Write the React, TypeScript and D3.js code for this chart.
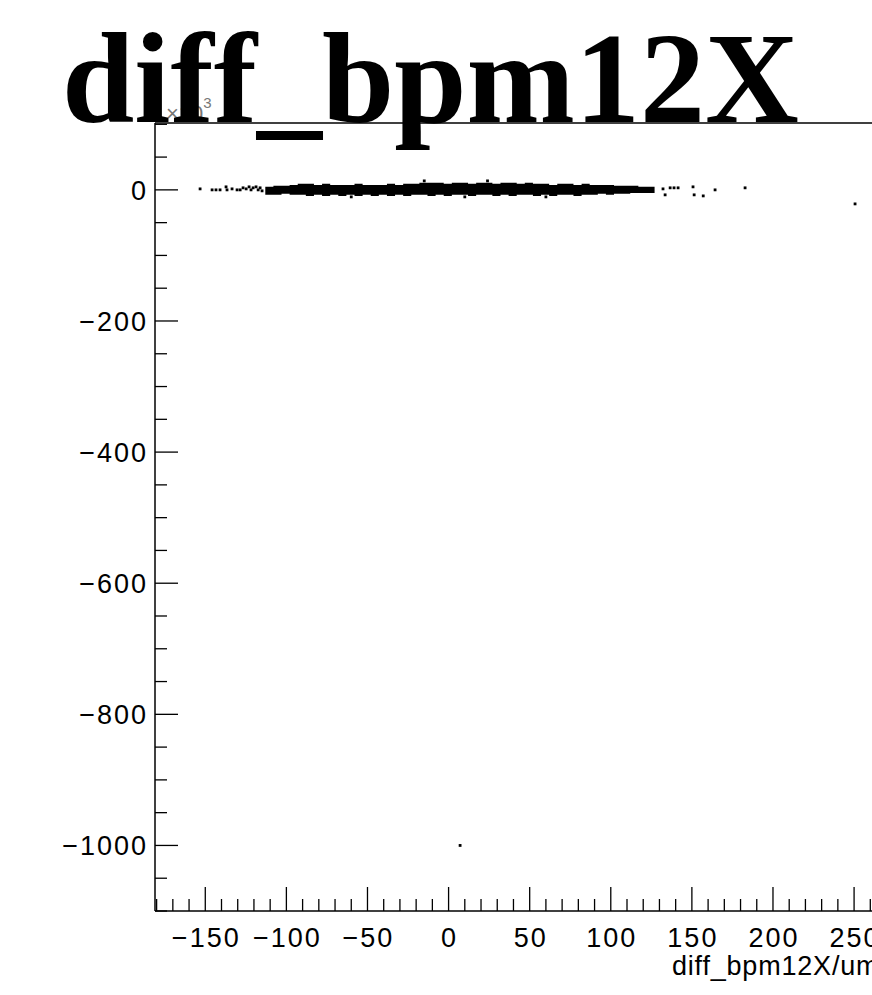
import React from "react";
import * as d3 from "d3";

// ---- data (y in units of 10^3) ----
const bandX = [-113, -108, -103, -98, -93, -88, -83, -78, -73, -68, -63, -58, -53, -48, -43, -38, -33, -28, -23, -18, -13, -8, -3, 2, 7, 12, 17, 22, 27, 32, 37, 42, 47, 52, 57, 62, 67, 72, 77, 82, 87, 92, 97, 102, 107, 112, 117, 122, 127];
const bandHi = [4.6, 6.1, 6.1, 7.6, 9.2, 9.2, 7.6, 9.2, 7.6, 7.6, 7.6, 9.2, 7.6, 7.6, 7.6, 9.2, 7.6, 9.2, 9.2, 10.7, 10.7, 10.7, 9.2, 10.7, 10.7, 9.2, 10.7, 10.7, 9.2, 10.7, 10.7, 9.2, 10.7, 9.2, 9.2, 7.6, 9.2, 9.2, 7.6, 9.2, 7.6, 7.6, 7.6, 6.1, 6.1, 6.1, 4.6, 4.6, 4.6];
const bandLo = [-7.6, -7.6, -6.1, -7.6, -7.6, -9.2, -7.6, -9.2, -7.6, -9.2, -7.6, -9.2, -7.6, -9.2, -7.6, -9.2, -7.6, -9.2, -7.6, -7.6, -9.2, -7.6, -9.2, -7.6, -7.6, -9.2, -7.6, -7.6, -9.2, -7.6, -9.2, -7.6, -7.6, -9.2, -7.6, -9.2, -7.6, -7.6, -9.2, -7.6, -7.6, -6.1, -7.6, -6.1, -6.1, -4.6, -4.6, -4.6, -4.6];

const pointX = [-153.2, -145.8, -143.4, -140.9, -137.2, -136.6, -133.5, -130.4, -128.5, -126.7, -124.8, -123.0, -121.8, -120.5, -118.7, -117.4, -116.2, -115.0, -15, 24, -60, 10, 60, 132.2, 133.5, 136.6, 139.0, 141.5, 150.7, 151.4, 157.0, 164.3, 182.8, 250.6, 7.1];
const pointY = [1.5, 0, 0, 0, 4.6, 0, 1.5, 0, 0, 3.1, 1.5, 4.6, 0, 3.1, 4.6, 0, 3.1, -1.5, 13.7, 13.7, -10.7, -10.7, -10.7, 1.5, -7.6, 3.1, 3.1, 3.1, 4.6, -7.6, -9.2, 0, 3.1, -21.4, -1000];

const yMajor = [-1000, -800, -600, -400, -200, 0];
const yMinor = [-1100, -1050, -1000, -950, -900, -850, -800, -750, -700, -650, -600, -550, -500, -450, -400, -350, -300, -250, -200, -150, -100, -50, 0, 50, 100];
const xMajor = [-150, -100, -50, 0, 50, 100, 150, 200, 250, 300];

const titleText = "diff_bpm12X";
const xTitle = "diff_bpm12X/um";

export default function App() {
  const W = 872, H = 995;
  const left = 155, top = 123, bottom = 911;
  const x = d3.scaleLinear().domain([-181, 330]).range([left, left + 511 * 1.622]);
  const y = d3.scaleLinear().domain([-1100, 102]).range([bottom, top]);

  const xMinor: number[] = d3.range(-180, 331, 10);

  const band = bandX.map((v, i) => ({ x: v, hi: bandHi[i], lo: bandLo[i] }));
  const area = d3
    .area<{ x: number; hi: number; lo: number }>()
    .x((d) => x(d.x))
    .y0((d) => y(d.lo))
    .y1((d) => y(d.hi))
    .curve(d3.curveStepAfter);

  const fmt = (v: number) => (v < 0 ? "\u2212" + Math.abs(v) : String(v));
  const sans = "'Liberation Sans', Arial, Helvetica, sans-serif";
  const ls = 2;

  return (
    <svg width={W} height={H} style={{ position: "absolute", left: 0, top: 0, background: "#fff" }}>
      <rect x={0} y={0} width={W} height={H} fill="#fff" />
      {/* x10^3 label */}
      <text x={166} y={121} fontFamily={sans} fontSize={22} fill="#777">
        ×10
        <tspan dy={-13} fontSize={15}>3</tspan>
      </text>
      {/* title */}
      <text x={62} y={122} fontFamily="'Liberation Serif', 'Times New Roman', serif" fontWeight="bold" fontSize={130} fill="#000">
        {titleText}
      </text>
      {/* frame */}
      <line x1={left} x2={W + 10} y1={top} y2={top} stroke="#000" strokeWidth={1.5} />
      <line x1={left} x2={W + 10} y1={bottom} y2={bottom} stroke="#000" strokeWidth={1.5} />
      <line x1={left} x2={left} y1={top} y2={bottom} stroke="#000" strokeWidth={1.5} />
      {/* y ticks */}
      {yMinor.map((v) => (
        <line key={"ym" + v} x1={left} x2={left + (yMajor.includes(v) ? 23 : 12)} y1={y(v)} y2={y(v)} stroke="#000" strokeWidth={1.3} />
      ))}
      {yMajor.map((v) => (
        <text key={"yl" + v} x={148} y={y(v)} dy="0.36em" textAnchor="end" fontFamily={sans} fontSize={27} letterSpacing={ls} fill="#000">
          {fmt(v)}
        </text>
      ))}
      {/* x ticks */}
      {xMinor.map((v) => (
        <line key={"xm" + v} x1={x(v)} x2={x(v)} y1={bottom} y2={bottom - (xMajor.includes(v) ? 24 : 12)} stroke="#000" strokeWidth={1.3} />
      ))}
      {xMajor.map((v) => (
        <text key={"xl" + v} x={x(v) + 1} y={947} textAnchor="middle" fontFamily={sans} fontSize={27} letterSpacing={ls} fill="#000">
          {fmt(v)}
        </text>
      ))}
      <text x={672} y={975} fontFamily={sans} fontSize={27} letterSpacing={0.8} fill="#000">
        {xTitle}
      </text>
      {/* data */}
      <path d={area(band) || ""} fill="#000" />
      {pointX.map((v, i) => (
        <rect key={"p" + i} x={x(v) - 1.4} y={y(pointY[i]) - 1.4} width={2.8} height={2.8} fill="#000" />
      ))}
    </svg>
  );
}
